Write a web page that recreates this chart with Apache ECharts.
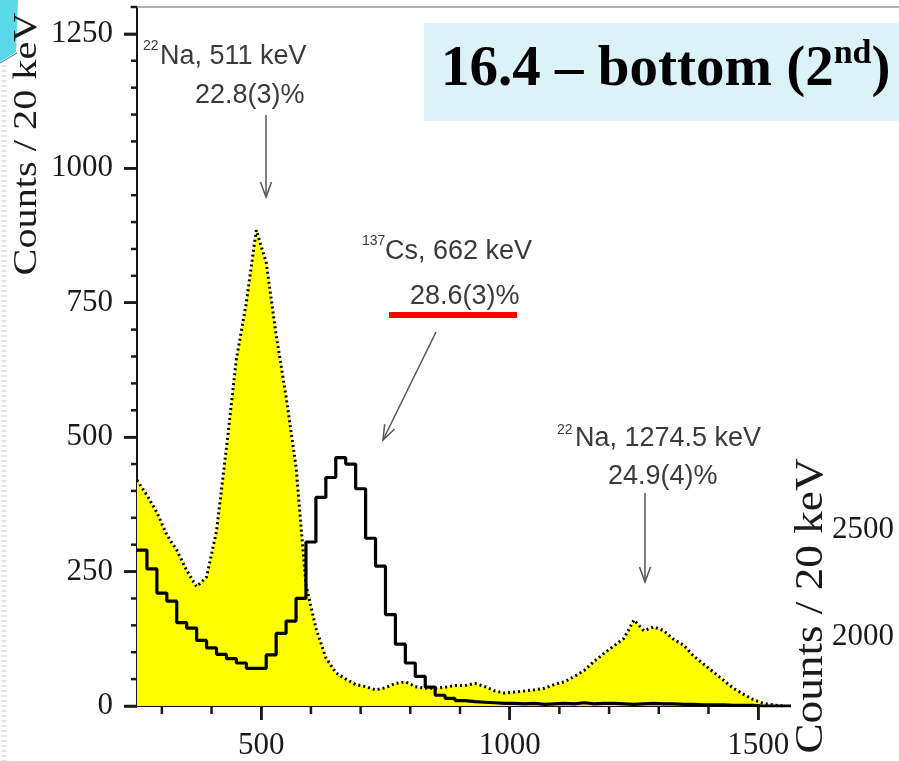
<!DOCTYPE html>
<html><head><meta charset="utf-8">
<script src="https://cdn.jsdelivr.net/npm/echarts@6/dist/echarts.min.js"></script>
<style>html,body{margin:0;padding:0;background:#fff;overflow:hidden}#c{width:899px;height:761px}</style>
</head><body><div id="c"></div>
<script>
// Bin left edges (keV), bin width 20 keV
const energyKeV = [250,270,290,310,330,350,370,390,410,430,450,470,490,510,530,550,570,590,610,630,650,670,690,710,730,750,770,790,810,830,850,870,890,910,930,950,970,990,1010,1030,1050,1070,1090,1110,1130,1150,1170,1190,1210,1230,1250,1270,1290,1310,1330,1350,1370,1390,1410,1430,1450,1470,1490,1510,1530,1550];
// 22Na spectrum (yellow, dotted outline)
const na22Counts = [420,392,360,318,290,252,222,240,325,480,645,750,885,825,690,575,445,225,145,90,62,50,40,36,30,34,42,45,36,33,33,35,38,38,42,36,28,24,26,28,30,33,40,45,55,66,83,98,112,126,160,140,147,140,124,113,93,78,63,48,33,22,12,5,2,0];
// 137Cs spectrum (black step histogram)
const cs137Counts = [290,255,210,195,155,145,122,108,96,88,80,70,70,95,135,158,200,305,388,425,462,450,404,312,260,170,115,80,55,35,20,14,10,8,7,6,5,5,4,5,3,4,5,4,6,4,5,5,4,3,4,5,4,4,3,3,2,2,2,1,1,1,0,0,0,0];
const xMajorTicks = [500,1000,1500];
const xMinorTicks = [300,400,600,700,800,900,1100,1200,1300,1400];
const yMajorTicks = [0,250,500,750,1000,1250];
const yMinorTicks = [50,100,150,200,300,350,400,450,550,600,650,700,800,850,900,950,1050,1100,1150,1200,1300];
const rightAxisTicks = [2000,2500];
const xRange = [250,1560];
const yRange = [0,1300];
const annotations = [
  {sup:'22', main:'Na, 511 keV', pct:'22.8(3)%'},
  {sup:'137', main:'Cs, 662 keV', pct:'28.6(3)%'},
  {sup:'22', main:'Na, 1274.5 keV', pct:'24.9(4)%'}
];

const naData = energyKeV.map((e,i)=>[e, na22Counts[i]]);
const csData = energyKeV.map((e,i)=>[e, cs137Counts[i]]);
csData.push([1570, 0]);

const serif = 'Liberation Serif';
const sans = 'Liberation Sans';
const tickFont = {fontFamily: serif, fontSize: 31, color: '#1a1a1a'};
const annColor = '#3a3a3a';
const plain = v => String(v);

function txt(x, y, text, size) {
  return {type:'text', x:x, y:y, z:100,
    style:{text:text, fontFamily:sans, fontSize:size, fill:annColor, textAlign:'left', textVerticalAlign:'middle'}};
}
function arrow(x1,y1,x2,y2){
  const dx=x2-x1, dy=y2-y1, L=Math.sqrt(dx*dx+dy*dy), ux=dx/L, uy=dy/L;
  const hl=15, hw=5.5;
  const bx=x2-ux*hl, by=y2-uy*hl;
  return [
    {type:'line', z:100, shape:{x1:x1,y1:y1,x2:x2,y2:y2}, style:{stroke:'#555', lineWidth:1.5}},
    {type:'polyline', z:100, shape:{points:[[bx-uy*hw, by+ux*hw],[x2,y2],[bx+uy*hw, by-ux*hw]]}, style:{stroke:'#555', lineWidth:1.5, fill:'none'}}
  ];
}

const graphics = [
  {type:'polygon', z:1, shape:{points:[[0,0],[18,0],[16,52],[0,62]]}, style:{fill:'#5cd9e8'}},
  {type:'line', z:2, shape:{x1:0,y1:63,x2:17,y2:53}, style:{stroke:'#2b7f8a', lineWidth:1}},
  {type:'line', z:2, shape:{x1:4,y1:65,x2:4,y2:761}, style:{stroke:'#dde3e6', lineWidth:5, lineDash:[2,3]}},
  {type:'line', z:5, shape:{x1:130,y1:7,x2:899,y2:7}, style:{stroke:'#9a9a9a', lineWidth:1.5}},
  {type:'rect', z:50, shape:{x:424,y:23,width:475,height:98}, style:{fill:'#dbf3f7'}},
  {type:'text', z:51, x:441, y:70, style:{
    text:'{a|16.4 – bottom (2}{s|nd}{a|)}', textVerticalAlign:'middle', textAlign:'left',
    rich:{a:{fontFamily:serif, fontWeight:'bold', fontSize:57, lineHeight:66, fill:'#000'},
          s:{fontFamily:serif, fontWeight:'bold', fontSize:34, lineHeight:22, verticalAlign:'top', fill:'#000'}}}},
  {type:'text', z:60, x:27, y:144, rotation:Math.PI/2, scaleX:1.22, style:{text:'Counts / 20 keV', fontFamily:serif, fontSize:33, fill:'#1a1a1a', textAlign:'center', textVerticalAlign:'middle'}},
  {type:'text', z:60, x:811, y:606, rotation:Math.PI/2, scaleX:1.13, style:{text:'Counts / 20 keV', fontFamily:serif, fontSize:40, fill:'#1a1a1a', textAlign:'center', textVerticalAlign:'middle'}},
  txt(143, 46, annotations[0].sup, 14),
  txt(160, 57, annotations[0].main, 27),
  txt(195, 96, annotations[0].pct, 27),
  txt(362, 241, annotations[1].sup, 14),
  txt(385, 252, annotations[1].main, 27),
  txt(410, 297, annotations[1].pct, 27),
  {type:'rect', z:100, shape:{x:389,y:312,width:128,height:6}, style:{fill:'#ff0000'}},
  txt(557, 430, annotations[2].sup, 14),
  txt(575, 439, annotations[2].main, 27),
  txt(608, 477, annotations[2].pct, 27)
].concat(arrow(266,115,266,197), arrow(436,332,383,440), arrow(645,493,645,582));

const chart = echarts.init(document.getElementById('c'), null, {renderer:'canvas'});
chart.setOption({
  animation:false,
  grid:[
    {left:137, top:7, width:651, height:701},
    {left:760, top:423, width:64, height:321}
  ],
  xAxis:[
    {type:'value', gridIndex:0, min:xRange[0], max:xRange[1],
     axisLine:{show:true, onZero:false, lineStyle:{color:'#151515', width:2}},
     axisTick:{show:true, customValues:xMajorTicks, length:14, lineStyle:{color:'#1a1a1a', width:2.5}},
     axisLabel:{show:true, customValues:xMajorTicks, formatter:plain, margin:14, padding:[10,0,0,0], fontFamily:tickFont.fontFamily, fontSize:tickFont.fontSize, color:tickFont.color},
     splitLine:{show:false}},
    {type:'value', gridIndex:1, show:false, min:0, max:1}
  ],
  yAxis:[
    {type:'value', gridIndex:0, min:yRange[0], max:yRange[1],
     axisLine:{show:true, onZero:false, lineStyle:{color:'#151515', width:2}},
     axisTick:{show:true, customValues:yMajorTicks, length:13, lineStyle:{color:'#1a1a1a', width:2.5}},
     axisLabel:{show:true, customValues:yMajorTicks, formatter:plain, margin:24, fontFamily:tickFont.fontFamily, fontSize:tickFont.fontSize, color:tickFont.color},
     splitLine:{show:false}},
    {type:'value', gridIndex:1, min:1500, max:3000, position:'right',
     axisLine:{show:false}, axisTick:{show:false}, splitLine:{show:false},
     axisLabel:{show:true, customValues:rightAxisTicks, formatter:plain, margin:8, fontFamily:tickFont.fontFamily, fontSize:tickFont.fontSize, color:tickFont.color}}
  ],
  series:[
    {type:'line', name:'22Na', xAxisIndex:0, yAxisIndex:0, data:naData, symbol:'none', smooth:false, z:2,
     lineStyle:{color:'#000', width:3, type:[2,3]},
     areaStyle:{color:'#ffff00', opacity:1}},
    {type:'line', name:'137Cs', xAxisIndex:0, yAxisIndex:0, data:csData, symbol:'none', step:'end', z:3,
     lineStyle:{color:'#000', width:3.2}},
    {type:'line', xAxisIndex:1, yAxisIndex:1, data:[], symbol:'none'}
  ],
  graphic:graphics
});

// Extra tick marks, positioned through the chart's own scales
const toPx = (e, v) => chart.convertToPixel({xAxisIndex:0, yAxisIndex:0}, [e, v]);
const tick = (x1, y1, x2, y2) => ({type:'line', z:90, shape:{x1:x1, y1:y1, x2:x2, y2:y2}, style:{stroke:'#1a1a1a', lineWidth:2.5}});
const axisGraphics = [];
xMajorTicks.forEach(v => { const p = toPx(v, yRange[0]); axisGraphics.push(tick(p[0], p[1], p[0], p[1]+14)); });
xMinorTicks.forEach(v => { const p = toPx(v, yRange[0]); axisGraphics.push(tick(p[0], p[1], p[0], p[1]+8)); });
yMajorTicks.forEach(v => { const p = toPx(xRange[0], v); axisGraphics.push(tick(p[0]-13, p[1], p[0], p[1])); });
yMinorTicks.forEach(v => { const p = toPx(xRange[0], v); axisGraphics.push(tick(p[0]-6, p[1], p[0], p[1])); });
chart.setOption({graphic: graphics.concat(axisGraphics)}, {replaceMerge:['graphic']});
</script></body></html>
